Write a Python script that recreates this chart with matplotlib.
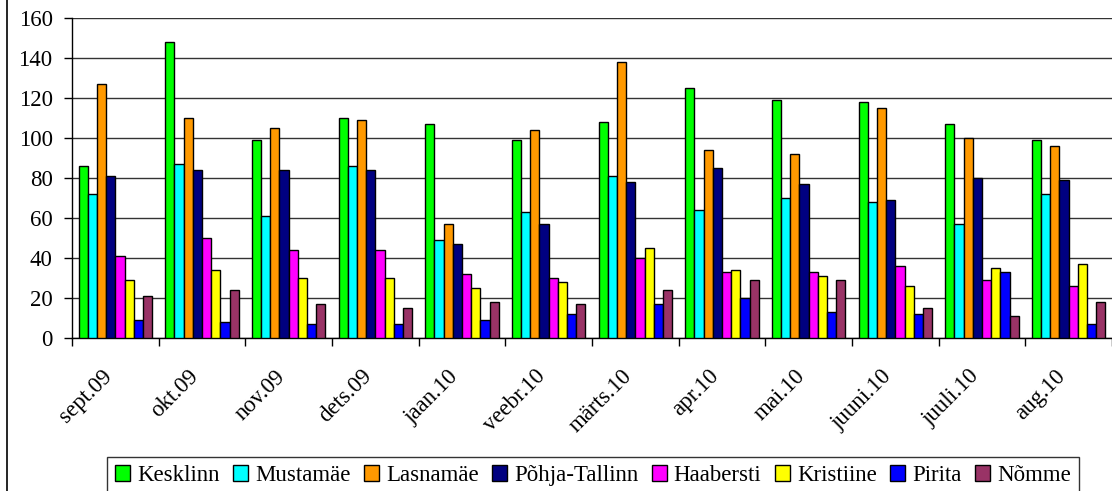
import matplotlib.pyplot as plt
from matplotlib.lines import Line2D
import numpy as np

plt.rcParams['font.family'] = ['Liberation Serif', 'DejaVu Serif']

months = ["sept.09", "okt.09", "nov.09", "dets.09", "jaan.10", "veebr.10",
          "märts.10", "apr.10", "mai.10", "juuni.10", "juuli.10", "aug.10"]

kesklinn = [86, 148, 99, 110, 107, 99, 108, 125, 119, 118, 107, 99]
mustamae = [72, 87, 61, 86, 49, 63, 81, 64, 70, 68, 57, 72]
lasnamae = [127, 110, 105, 109, 57, 104, 138, 94, 92, 115, 100, 96]
pohja = [81, 84, 84, 84, 47, 57, 78, 85, 77, 69, 80, 79]
haabersti = [41, 50, 44, 44, 32, 30, 40, 33, 33, 36, 29, 26]
kristiine = [29, 34, 30, 30, 25, 28, 45, 34, 31, 26, 35, 37]
pirita = [9, 8, 7, 7, 9, 12, 17, 20, 13, 12, 33, 7]
nomme = [21, 24, 17, 15, 18, 17, 24, 29, 29, 15, 11, 18]

series = [
    ("Kesklinn", kesklinn, "#00ff00"),
    ("Mustamäe", mustamae, "#00ffff"),
    ("Lasnamäe", lasnamae, "#ff9900"),
    ("Põhja-Tallinn", pohja, "#000080"),
    ("Haabersti", haabersti, "#ff00ff"),
    ("Kristiine", kristiine, "#ffff00"),
    ("Pirita", pirita, "#0000ff"),
    ("Nõmme", nomme, "#993366"),
]

W, H = 1112, 491
fs = 16.5
fig = plt.figure(figsize=(W / 100, H / 100), dpi=100)
ax = fig.add_axes([72 / W, 1 - 338 / H, 1 - 72 / W, 320 / H])

x = np.arange(len(months))
bar_w = 0.106
offsets = (np.arange(len(series)) - (len(series) - 1) / 2) * bar_w

for i, (name, vals, color) in enumerate(series):
    ax.bar(x + offsets[i], vals, width=bar_w, color=color,
           edgecolor="black", linewidth=1.0, zorder=3)

ax.set_xlim(-0.5, len(months) - 0.5)
ax.set_ylim(0, 160)
ax.set_yticks(range(0, 161, 20))
ax.yaxis.grid(True, color="#333333", linewidth=1, zorder=0)

# category labels, shifted a bit left like the original
ax.set_xticks(x - 0.16)
ax.set_xticklabels(months, rotation=45, ha="right", va="top",
                   rotation_mode="anchor", fontsize=fs)
ax.tick_params(axis="x", length=0, pad=20)
ax.set_xticks(np.arange(-0.5, len(months), 1), minor=True)
ax.tick_params(axis="x", which="minor", length=6, width=1, direction="out")
ax.tick_params(axis="y", length=6, width=1, labelsize=fs, pad=8)

for side in ["top", "right"]:
    ax.spines[side].set_visible(False)
ax.spines["left"].set_linewidth(1)
ax.spines["bottom"].set_linewidth(1)

# outer frame line on the left
fig.add_artist(Line2D([6.5 / W, 6.5 / W], [0, 1], color="black", linewidth=1.2))

handles = [plt.Rectangle((0, 0), 1, 1, facecolor=c, edgecolor="black", linewidth=1.0)
           for _, _, c in series]
labels = [n for n, _, _ in series]
leg = fig.legend(handles, labels, loc="upper center", bbox_to_anchor=(593 / W, 1 - 457 / H),
                 ncol=8, fontsize=fs, frameon=True, fancybox=False,
                 handlelength=0.65, handleheight=0.65, handletextpad=0.3,
                 columnspacing=0.6, borderpad=0.35, borderaxespad=0)
leg.get_frame().set_edgecolor("black")
leg.get_frame().set_linewidth(1)

fig.savefig("out.png", dpi=100)
